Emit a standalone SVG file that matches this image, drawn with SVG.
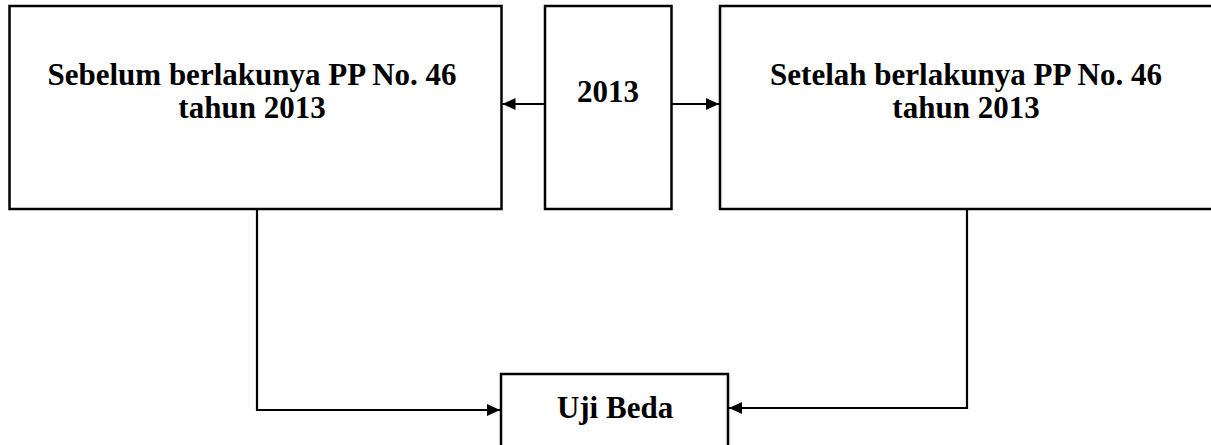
<svg xmlns="http://www.w3.org/2000/svg" width="1211" height="445" viewBox="0 0 1211 445">
<style>
.box{fill:#fff;stroke:#000;stroke-width:2.5}
.lbl{font-family:"Liberation Serif","Times New Roman",serif;font-weight:bold;font-size:31px;fill:#000;text-anchor:middle}
.con{fill:none;stroke:#000;stroke-width:2.2}
</style>
<defs>
<marker id="ah" viewBox="0 0 13 12" refX="13" refY="6" markerWidth="13" markerHeight="12" markerUnits="userSpaceOnUse" orient="auto">
<path d="M0,0 L13,6 L0,12 Z" fill="#000"/>
</marker>
</defs>
<rect width="1211" height="445" fill="#fff"/>
<g id="node-before">
<rect class="box" x="9.5" y="6" width="492" height="203"/>
<text class="lbl" x="252" y="85">Sebelum berlakunya PP No. 46</text>
<text class="lbl" x="252" y="118">tahun 2013</text>
</g>
<g id="node-2013">
<rect class="box" x="545" y="6" width="126.5" height="203"/>
<text class="lbl" x="608" y="102">2013</text>
</g>
<g id="node-after">
<rect class="box" x="720" y="6" width="500" height="203"/>
<text class="lbl" x="966" y="85">Setelah berlakunya PP No. 46</text>
<text class="lbl" x="966" y="118">tahun 2013</text>
</g>
<g id="node-uji">
<rect class="box" x="501" y="374" width="227" height="80"/>
<text class="lbl" x="615" y="418">Uji Beda</text>
</g>
<g id="connectors">
<path class="con" d="M545,104 H502.5" marker-end="url(#ah)"/>
<path class="con" d="M671.5,104 H719" marker-end="url(#ah)"/>
<path class="con" d="M257,209 V410 H500" marker-end="url(#ah)"/>
<path class="con" d="M967,209 V408 H729" marker-end="url(#ah)"/>
</g>
</svg>
